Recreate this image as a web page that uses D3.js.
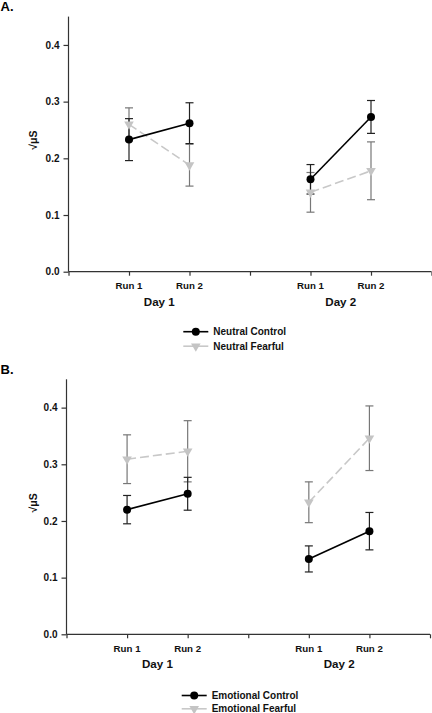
<!DOCTYPE html>
<html><head><meta charset="utf-8">
<script src="https://cdn.jsdelivr.net/npm/d3@7"></script>
<style>body{margin:0;background:#fff}svg{display:block;font-family:"Liberation Sans",Arial,sans-serif;font-weight:bold}svg text{font-weight:bold}</style>
</head><body>
<script>
const runs = ["Run 1", "Run 2", "Run 1", "Run 2"];
const days = ["Day 1", "Day 2"];
const yTicks = [0.0, 0.1, 0.2, 0.3, 0.4];
const yLabel = "√μS";

const neutralControl     = [0.233, 0.262, 0.163, 0.273];
const neutralControlErr  = [0.037, 0.036, 0.026, 0.029];
const neutralFearful     = [0.260, 0.188, 0.140, 0.178];
const neutralFearfulErr  = [0.029, 0.037, 0.035, 0.051];

const emotionalControl    = [0.220, 0.248, 0.133, 0.182];
const emotionalControlErr = [0.025, 0.029, 0.023, 0.033];
const emotionalFearful    = [0.309, 0.323, 0.233, 0.346];
const emotionalFearfulErr = [0.043, 0.054, 0.036, 0.057];

const W = 432, H = 713;
const svg = d3.select("body").append("svg").attr("width", W).attr("height", H);

const panels = [
  {label: "A.", labelY: 11, left: 68.5, right: 431.5, bottom: 271.7, top: 16.6,
   names: ["Neutral Control", "Neutral Fearful"],
   control: neutralControl, controlErr: neutralControlErr,
   fearful: neutralFearful, fearfulErr: neutralFearfulErr,
   legX: 183.3, legY: 331.7, legGap: 14.5},
  {label: "B.", labelY: 373.5, left: 66.5, right: 430, bottom: 634.3, top: 379.3,
   names: ["Emotional Control", "Emotional Fearful"],
   control: emotionalControl, controlErr: emotionalControlErr,
   fearful: emotionalFearful, fearfulErr: emotionalFearfulErr,
   legX: 181.7, legY: 695.5, legGap: 13.3}
];

const xIndex = i => (i < 2 ? i + 1 : i + 2);
const triangle = d3.symbol().type(d3.symbolTriangle).size(40);

panels.forEach(p => {
  const x = d3.scaleLinear().domain([0, 6]).range([p.left, p.right]);
  const y = d3.scaleLinear().domain([0, 0.45]).range([p.bottom, p.top]);
  const g = svg.append("g");

  svg.append("text").attr("x", 0.5).attr("y", p.labelY).attr("font-size", 13).text(p.label);

  const ya = g.append("g").attr("transform", `translate(${p.left},0)`)
    .call(d3.axisLeft(y).tickValues(yTicks).tickFormat(d3.format(".1f")).tickSize(5).tickPadding(4));
  ya.select(".domain").attr("d", `M0,${p.top}V${p.bottom}`).attr("stroke", "#333").attr("stroke-width", 1.2);
  ya.selectAll(".tick line").attr("stroke", "#333").attr("stroke-width", 1.2);
  ya.attr("font-family", null).attr("font-size", null);
  ya.selectAll("text").attr("font-size", 10).attr("fill", "#111");

  const xa = g.append("g").attr("transform", `translate(0,${p.bottom})`)
    .call(d3.axisBottom(x).tickValues(d3.range(0, 7)).tickFormat("").tickSize(4));
  xa.select(".domain").attr("d", `M${p.left},0H${p.right}`).attr("stroke", "#333").attr("stroke-width", 1.2);
  xa.selectAll(".tick line").attr("stroke", "#333").attr("stroke-width", 1.2);

  runs.forEach((r, i) => {
    g.append("text").attr("x", x(xIndex(i))).attr("y", p.bottom + 17.5)
      .attr("text-anchor", "middle").attr("font-size", 9.7).attr("fill", "#111").text(r);
  });
  days.forEach((d, j) => {
    g.append("text").attr("x", (x(j * 3 + 1) + x(j * 3 + 2)) / 2).attr("y", p.bottom + 34)
      .attr("text-anchor", "middle").attr("font-size", 11.6).attr("fill", "#111").text(d);
  });

  g.append("text").attr("transform", `translate(37,${(p.top + p.bottom) / 2 - 4}) rotate(-90)`)
    .attr("text-anchor", "middle").attr("font-size", 10.5).attr("fill", "#111").text(yLabel);

  function errBars(vals, errs, color) {
    vals.forEach((v, i) => {
      const cx = x(xIndex(i)), y1 = y(v + errs[i]), y2 = y(v - errs[i]);
      g.append("line").attr("x1", cx).attr("x2", cx).attr("y1", y1).attr("y2", y2)
        .attr("stroke", color).attr("stroke-width", 1.2);
      [y1, y2].forEach(yy => g.append("line").attr("x1", cx - 4).attr("x2", cx + 4)
        .attr("y1", yy).attr("y2", yy).attr("stroke", color).attr("stroke-width", 1.2));
    });
  }
  errBars(p.fearful, p.fearfulErr, "#777");
  errBars(p.control, p.controlErr, "#222");

  const line = d3.line().x(d => x(xIndex(d.i))).y(d => y(d.v));
  function drawSeries(vals, color, dash, marker) {
    [0, 2].forEach(s => {
      const seg = vals.slice(s, s + 2).map((v, k) => ({v, i: s + k}));
      g.append("path").attr("d", line(seg)).attr("fill", "none").attr("stroke", color)
        .attr("stroke-width", 1.6).attr("stroke-dasharray", dash);
    });
    vals.forEach((v, i) => marker(x(xIndex(i)), y(v)));
  }
  const tri = (cx, cy) => g.append("path").attr("d", triangle)
    .attr("transform", `translate(${cx},${cy}) rotate(180)`).attr("fill", "#c4c4c4");
  const dot = (cx, cy) => g.append("circle").attr("cx", cx).attr("cy", cy).attr("r", 4).attr("fill", "#000");

  drawSeries(p.fearful, "#c8c8c8", "9,4", tri);
  drawSeries(p.control, "#000", null, dot);

  const lg = svg.append("g");
  [0, 1].forEach(k => {
    const ly = p.legY + k * p.legGap;
    const col = k === 0 ? "#000" : "#c8c8c8";
    lg.append("line").attr("x1", p.legX).attr("x2", p.legX + 25).attr("y1", ly).attr("y2", ly)
      .attr("stroke", col).attr("stroke-width", 1.6);
    if (k === 0) lg.append("circle").attr("cx", p.legX + 12.5).attr("cy", ly).attr("r", 4).attr("fill", "#000");
    else lg.append("path").attr("d", triangle).attr("transform", `translate(${p.legX + 12.5},${ly}) rotate(180)`).attr("fill", "#c4c4c4");
    lg.append("text").attr("x", p.legX + 30).attr("y", ly + 3.5).attr("font-size", 10).attr("fill", "#111").text(p.names[k]);
  });
});
</script>
</body></html>
